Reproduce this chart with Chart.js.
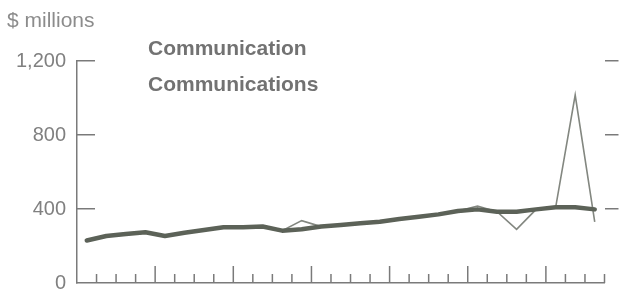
<!DOCTYPE html>
<html><head><meta charset="utf-8">
<script src="https://cdn.jsdelivr.net/npm/chart.js@4/dist/chart.umd.min.js"></script>
<style>html,body{margin:0;padding:0;background:#fff}#wrap{width:619px;height:293px}</style>
</head><body><div id="wrap"><canvas id="c" width="619" height="293"></canvas></div>
<script>
// Quarterly periods (27 quarters)
const periods = [
  'Y1 Q1','Y1 Q2','Y1 Q3','Y1 Q4','Y2 Q1','Y2 Q2','Y2 Q3','Y2 Q4','Y3 Q1','Y3 Q2','Y3 Q3','Y3 Q4',
  'Y4 Q1','Y4 Q2','Y4 Q3','Y4 Q4','Y5 Q1','Y5 Q2','Y5 Q3','Y5 Q4','Y6 Q1','Y6 Q2','Y6 Q3','Y6 Q4',
  'Y7 Q1','Y7 Q2','Y7 Q3'
];
// $ millions
const communication = [230,254,265,274,254,272,286,301,301,305,283,337,305,313,323,331,346,358,371,389,416,385,290,398,409,1016,331];
const communications = [230,254,265,274,254,272,286,301,301,305,283,290,305,313,323,331,346,358,371,389,398,385,385,398,409,409,398];
const yTicks = [0,400,800,1200];
const seriesNames = ['Communication','Communications'];
const unitLabel = '$ millions';

const AXIS = '#7a7a7a';
const FONT = '"Liberation Sans", Arial, Helvetica, sans-serif';

const decor = {
  id: 'decor',
  afterDraw(chart) {
    const ctx = chart.ctx;
    const x = chart.scales.x;
    const n = periods.length;
    const band = x.getPixelForValue(1) - x.getPixelForValue(0);
    const bottom = chart.chartArea.bottom;
    ctx.save();
    ctx.strokeStyle = AXIS;
    ctx.lineWidth = 1.5;
    for (let i = 1; i <= n; i++) {
      const px = x.getPixelForValue(i - 1) + band / 2;
      const len = (i % 4 === 0) ? 17 : 9;
      ctx.beginPath();
      ctx.moveTo(px, bottom);
      ctx.lineTo(px, bottom - len);
      ctx.stroke();
    }
    ctx.fillStyle = '#8c8c8c';
    ctx.font = '21px ' + FONT;
    ctx.textBaseline = 'alphabetic';
    ctx.fillText(unitLabel, 7, 27);
    ctx.fillStyle = '#727272';
    ctx.font = 'bold 21px ' + FONT;
    ctx.fillText(seriesNames[0], 148, 55);
    ctx.fillText(seriesNames[1], 148, 91);
    ctx.restore();
  }
};

new Chart(document.getElementById('c'), {
  type: 'line',
  data: {
    labels: periods,
    datasets: [
      { label: seriesNames[1], data: communications, borderColor: '#5c6258', borderWidth: 4.5,
        pointRadius: 0, tension: 0, fill: false, borderJoinStyle: 'round', borderCapStyle: 'round' },
      { label: seriesNames[0], data: communication, borderColor: '#838780', borderWidth: 1.6,
        pointRadius: 0, tension: 0, fill: false }
    ]
  },
  options: {
    responsive: false,
    animation: false,
    devicePixelRatio: 1,
    layout: { padding: { top: 61, left: 0, right: 0, bottom: 0 } },
    plugins: { legend: { display: false }, tooltip: { enabled: false } },
    scales: {
      x: {
        type: 'category', offset: true,
        grid: { display: true, offset: true, drawOnChartArea: false, drawTicks: false },
        border: { display: true, color: AXIS, width: 1.5 },
        ticks: { display: false },
        afterFit(s) { s.height = 10; s.paddingLeft = 0; s.paddingRight = 0; }
      },
      y: {
        position: 'left', min: 0, max: 1200,
        afterBuildTicks(s) { s.ticks = yTicks.map(v => ({ value: v })); },
        grid: { drawOnChartArea: false, tickLength: -18, lineWidth: 1.5,
          tickColor: c => (c.tick && c.tick.value === 0) ? 'rgba(0,0,0,0)' : AXIS },
        border: { display: true, color: AXIS, width: 1.5 },
        ticks: { padding: 29, color: '#808080', font: { size: 20, family: FONT },
          callback: v => v.toLocaleString('en-US') },
        afterFit(s) { s.width = 77; s.paddingTop = 0; s.paddingBottom = 0; }
      },
      y2: {
        position: 'right', min: 0, max: 1200,
        afterBuildTicks(s) { s.ticks = yTicks.map(v => ({ value: v })); },
        grid: { drawOnChartArea: false, tickLength: 14, lineWidth: 1.5,
          tickColor: c => (c.tick && c.tick.value === 0) ? 'rgba(0,0,0,0)' : AXIS },
        border: { display: false },
        ticks: { display: false },
        afterFit(s) { s.width = 14.5; s.paddingTop = 0; s.paddingBottom = 0; }
      }
    }
  },
  plugins: [decor]
});
</script></body></html>
